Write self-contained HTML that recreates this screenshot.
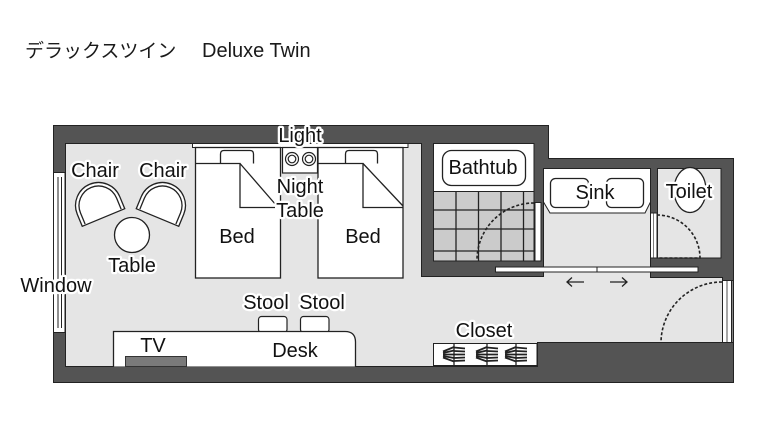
<!DOCTYPE html>
<html><head><meta charset="utf-8"><style>
html,body{margin:0;padding:0;background:#fff;}
svg{display:block;}
.lb{font-family:"Liberation Sans",sans-serif;font-size:20px;fill:#111;stroke:#fff;stroke-width:4.5px;paint-order:stroke;stroke-linejoin:round;text-anchor:middle;}
</style></head><body>
<svg width="780" height="430" viewBox="0 0 780 430" xmlns="http://www.w3.org/2000/svg">
<rect width="780" height="430" fill="#fff"/>
<text x="25" y="57" font-family="'Liberation Sans','Noto Sans CJK JP',sans-serif" font-size="19" fill="#1a1a1a">デラックスツイン</text>
<text x="202" y="57" font-family="'Liberation Sans',sans-serif" font-size="20" fill="#1a1a1a">Deluxe Twin</text>

<path d="M53.5,125.5 H548.5 V158.5 H733.5 V382.5 H53.5 Z" fill="#545454" stroke="#222" stroke-width="1"/>
<path d="M65.5,143.5 H421.5 V276.5 H543.5 V168.5 H650.5 V277.5 H722.5 V280.5 H733 V342.5 H537.5 V366.5 H65.5 Z" fill="#e5e5e5" stroke="#222" stroke-width="1"/>

<rect x="53.5" y="172.5" width="11.5" height="160" fill="#fff" stroke="#222"/>
<line x1="58" y1="177" x2="58" y2="328" stroke="#222" stroke-width="1"/>
<line x1="61.5" y1="177" x2="61.5" y2="328" stroke="#222" stroke-width="1"/>

<rect x="433.5" y="143.5" width="100.5" height="117.5" fill="#fff" stroke="#222"/>
<rect x="433.5" y="191.5" width="100.5" height="69.5" fill="#cbcbcb" stroke="#222"/>
<g stroke="#222" stroke-width="1.3">
<line x1="456" y1="191.5" x2="456" y2="261"/>
<line x1="478.5" y1="191.5" x2="478.5" y2="261"/>
<line x1="501" y1="191.5" x2="501" y2="261"/>
<line x1="523.5" y1="191.5" x2="523.5" y2="261"/>
<line x1="433.5" y1="210" x2="534" y2="210"/>
<line x1="433.5" y1="229" x2="534" y2="229"/>
<line x1="433.5" y1="251" x2="534" y2="251"/>
</g>
<rect x="442.5" y="150.5" width="83" height="35" rx="9" fill="#fff" stroke="#222" stroke-width="1.3"/>
<rect x="535" y="202.5" width="6" height="58.5" fill="#fff" stroke="#222"/>
<path d="M534,203 A57,57 0 0 0 477,260" fill="none" stroke="#222" stroke-width="1.6" stroke-dasharray="3,2"/>

<path d="M543.5,168.5 H650.5 V202 L645,213 H550 L543.5,202 Z" fill="#fff" stroke="#222"/>
<rect x="550.5" y="178.5" width="38" height="29" rx="5" fill="#fff" stroke="#222" stroke-width="1.3"/>
<rect x="606.5" y="178.5" width="37" height="29" rx="5" fill="#fff" stroke="#222" stroke-width="1.3"/>

<rect x="657.5" y="168.5" width="63.5" height="89.5" fill="#e5e5e5" stroke="#222"/>
<ellipse cx="690" cy="190" rx="16" ry="22.5" fill="#fff" stroke="#222" stroke-width="1.3"/>
<rect x="650.5" y="213" width="6.5" height="45" fill="#fff" stroke="#222"/>
<line x1="653.7" y1="213" x2="653.7" y2="258" stroke="#222" stroke-width="0.6"/>
<path d="M657,215 A43,43 0 0 1 700,258 L657,258" fill="none" stroke="#222" stroke-width="1.6" stroke-dasharray="3,2"/>

<rect x="495.5" y="267" width="101.5" height="5" fill="#fff" stroke="#222"/>
<rect x="597" y="267" width="101" height="5" fill="#fff" stroke="#222"/>
<g stroke="#222" stroke-width="1.3" fill="none">
<path d="M567,282 H584 M572,277.5 L567,282 L572,286.5"/>
<path d="M610,282 H627 M622,277.5 L627,282 L622,286.5"/>
</g>

<rect x="722.5" y="280.5" width="9" height="62" fill="#fff" stroke="#222"/>
<line x1="727" y1="281" x2="727" y2="342" stroke="#222" stroke-width="0.8"/>
<path d="M722,282 A61,61 0 0 0 661,343" fill="none" stroke="#222" stroke-width="1.6" stroke-dasharray="3,2"/>

<rect x="433.5" y="343.5" width="103.5" height="22" fill="#fff" stroke="#222"/>
<g stroke="#222" stroke-width="1.3">
<line x1="454" y1="343.5" x2="454" y2="365.5"/>
<line x1="487" y1="343.5" x2="487" y2="365.5"/>
<line x1="516" y1="343.5" x2="516" y2="365.5"/>
</g>
<g stroke="#222" stroke-width="1.8" fill="none">
<path d="M443,351.5 L454,347 M443,353 L454,350.5 M443,354.5 L454,354.5 M443,356 L454,358 M443,357.5 L454,361.5"/>
<path d="M454,347.5 L465,348.5 M454,351 L465,351.5 M454,354.5 L465,354.5 M454,358 L465,357.5 M454,361 L465,360.5"/>
<path d="M476,351.5 L487,347 M476,353 L487,350.5 M476,354.5 L487,354.5 M476,356 L487,358 M476,357.5 L487,361.5"/>
<path d="M487,347.5 L498,348.5 M487,351 L498,351.5 M487,354.5 L498,354.5 M487,358 L498,357.5 M487,361 L498,360.5"/>
<path d="M505,351.5 L516,347 M505,353 L516,350.5 M505,354.5 L516,354.5 M505,356 L516,358 M505,357.5 L516,361.5"/>
<path d="M516,347.5 L527,348.5 M516,351 L527,351.5 M516,354.5 L527,354.5 M516,358 L527,357.5 M516,361 L527,360.5"/>
</g>

<rect x="192.5" y="143.5" width="215.5" height="4" fill="#fff" stroke="#222" stroke-width="1"/>
<rect x="195.5" y="147.5" width="85" height="130.5" fill="#fff" stroke="#222" stroke-width="1.3"/>
<rect x="318" y="147.5" width="85" height="130.5" fill="#fff" stroke="#222" stroke-width="1.3"/>
<g stroke="#222" stroke-width="1.3" fill="#fff">
<path d="M220.5,163.5 V154 Q220.5,150.5 224,150.5 H250 Q253.5,150.5 253.5,154 V163.5"/>
<path d="M195.5,163.5 H240 V207.5 H275 M240,163.5 L276,205"/>
<path d="M345.5,163.5 V154 Q345.5,150.5 349,150.5 H374 Q377.5,150.5 377.5,154 V163.5"/>
<path d="M318,163.5 H363 V207.5 H403 M363,163.5 L403,206"/>
</g>
<rect x="282.5" y="147.5" width="35" height="25.5" fill="#fff" stroke="#222" stroke-width="1.2"/>
<g stroke="#222" stroke-width="1.2" fill="#fff">
<circle cx="292" cy="159" r="6.5"/><circle cx="292" cy="159" r="3.8"/>
<circle cx="309" cy="159" r="6.5"/><circle cx="309" cy="159" r="3.8"/>
</g>

<g transform="translate(103.5,217.5) rotate(-22.5)" stroke="#222" stroke-width="1.3" fill="#fff">
<path d="M-23,0 L23,0 L23,-13 A23,23 0 0 0 -23,-13 Z"/>
<path d="M-19.5,-1 L-19.5,-13 A19.5,19.5 0 0 1 19.5,-13 L19.5,-1" fill="none"/>
</g>
<g transform="translate(261,0) scale(-1,1)">
<g transform="translate(103.5,217.5) rotate(-22.5)" stroke="#222" stroke-width="1.3" fill="#fff">
<path d="M-23,0 L23,0 L23,-13 A23,23 0 0 0 -23,-13 Z"/>
<path d="M-19.5,-1 L-19.5,-13 A19.5,19.5 0 0 1 19.5,-13 L19.5,-1" fill="none"/>
</g>
</g>
<circle cx="132" cy="235" r="17.5" fill="#fff" stroke="#222" stroke-width="1.3"/>

<rect x="258.5" y="316.5" width="28.5" height="16" rx="3" fill="#fff" stroke="#222" stroke-width="1.2"/>
<rect x="300.5" y="316.5" width="28.5" height="16" rx="3" fill="#fff" stroke="#222" stroke-width="1.2"/>
<path d="M113.5,366.5 V331.5 H345 Q355.5,331.5 355.5,342 V366.5" fill="#fff" stroke="#222" stroke-width="1.3"/>
<rect x="125.5" y="356.5" width="61" height="10" fill="#7a7a7a" stroke="#333" stroke-width="1"/>

<text class="lb" x="300" y="142">Light</text>
<text class="lb" x="300" y="193">Night</text>
<text class="lb" x="300" y="217">Table</text>
<text class="lb" x="237" y="243">Bed</text>
<text class="lb" x="363" y="243">Bed</text>
<text class="lb" x="95" y="177">Chair</text>
<text class="lb" x="163" y="177">Chair</text>
<text class="lb" x="132" y="272">Table</text>
<text class="lb" x="56" y="292">Window</text>
<text class="lb" x="266" y="309">Stool</text>
<text class="lb" x="322" y="309">Stool</text>
<text class="lb" x="295" y="357">Desk</text>
<text class="lb" x="153" y="352">TV</text>
<text class="lb" x="484" y="337">Closet</text>
<text class="lb" x="483" y="174">Bathtub</text>
<text class="lb" x="595" y="199">Sink</text>
<text class="lb" x="689" y="198">Toilet</text>
</svg>
</body></html>
